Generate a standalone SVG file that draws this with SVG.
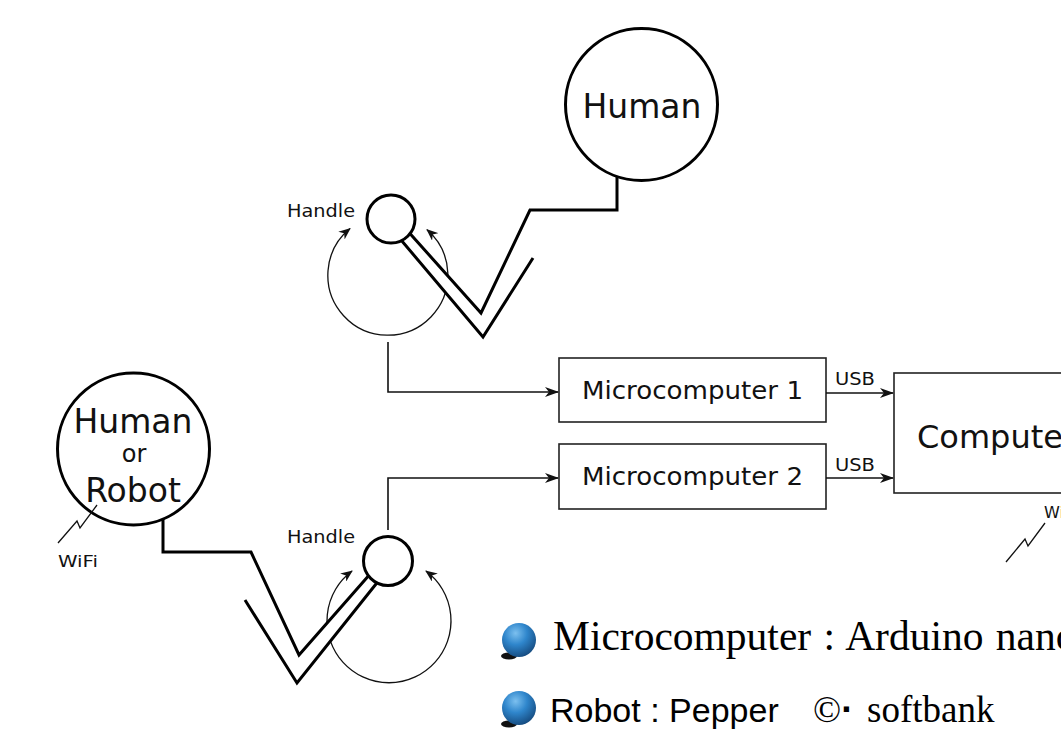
<svg xmlns="http://www.w3.org/2000/svg" width="1061" height="743" viewBox="0 0 1061 743">
  <style>
    .sans { font-family: "DejaVu Sans", Verdana, sans-serif; fill: #111; }
    .node { fill: #fff; stroke: #000; stroke-width: 3; }
    .box { fill: #fff; stroke: #222; stroke-width: 1.6; }
    .arm { fill: none; stroke: #000; stroke-width: 3; stroke-linejoin: miter; }
    .band { fill: #fff; stroke: none; }
    .wire { fill: none; stroke: #111; stroke-width: 1.6; }
    .turn { fill: none; stroke: #111; stroke-width: 1.3; }
    .radio { fill: none; stroke: #111; stroke-width: 1.3; }
    .serif { font-family: "Liberation Serif", "Times New Roman", serif; fill: #000; }
    .gothic { font-family: "Liberation Sans", Arial, sans-serif; fill: #000; }
  </style>
  <defs>
    <marker id="arrow" viewBox="0 0 14 10" refX="13" refY="5" markerWidth="14" markerHeight="10" markerUnits="userSpaceOnUse" orient="auto">
      <path d="M0,0 L14,5 L0,10 L4,5 Z" fill="#111"/>
    </marker>
    <marker id="turnhead" viewBox="0 0 12 10" refX="11" refY="5" markerWidth="12" markerHeight="10" markerUnits="userSpaceOnUse" orient="auto-start-reverse">
      <path d="M0,0 L12,5 L0,10 L3.5,5 Z" fill="#111"/>
    </marker>
    <radialGradient id="ball" cx="0.4" cy="0.3" r="0.75">
      <stop offset="0" stop-color="#7cc0ef"/>
      <stop offset="0.45" stop-color="#2f86cc"/>
      <stop offset="1" stop-color="#14477a"/>
    </radialGradient>
  </defs>

  <!-- rotation hints around each handle (drawn under the arms) -->
  <g id="rotation-top">
    <path class="turn" d="M350,228.6 A60,60 0 1 0 427,229.7" marker-start="url(#turnhead)" marker-end="url(#turnhead)"/>
  </g>
  <g id="rotation-bottom">
    <path class="turn" d="M352,571 A62,62 0 1 0 426,571" marker-start="url(#turnhead)" marker-end="url(#turnhead)"/>
  </g>

  <!-- arm linking the top human to its handle -->
  <g id="arm-top">
    <polygon class="band" points="403,243 483,337 533,258 530,210 481,313 413,237"/>
    <polyline class="arm" points="617,176 617,210 530,210 481,313 405,228"/>
    <polyline class="arm" points="533,258 483,337 396,234"/>
  </g>

  <!-- arm linking the human/robot to its handle -->
  <g id="arm-bottom">
    <polygon class="band" points="245,600 297,683 375,583 367,577 299,655 251,552"/>
    <polyline class="arm" points="163,519 163,552 251,552 299,655 378,565"/>
    <polyline class="arm" points="245,600 297,683 384,574"/>
  </g>

  <g id="human-top">
    <circle class="node" cx="641.5" cy="104.5" r="76"/>
    <text class="sans" x="642" y="118" font-size="33" text-anchor="middle">Human</text>
  </g>

  <g id="human-or-robot">
    <circle class="node" cx="133.5" cy="449" r="76"/>
    <text class="sans" x="133" y="433" font-size="33" text-anchor="middle">Human</text>
    <text class="sans" x="134" y="462" font-size="24" text-anchor="middle">or</text>
    <text class="sans" x="133" y="502" font-size="33" text-anchor="middle">Robot</text>
    <polyline class="radio" points="58,543 77,521 80,528 97,505"/>
    <text class="sans" x="58" y="567" font-size="16.5" textLength="40" lengthAdjust="spacingAndGlyphs">WiFi</text>
  </g>

  <g id="handle-top">
    <circle class="node" cx="391" cy="219" r="24"/>
    <text class="sans" x="287" y="217" font-size="18" textLength="68" lengthAdjust="spacingAndGlyphs">Handle</text>
  </g>

  <g id="handle-bottom">
    <circle class="node" cx="388" cy="561" r="24.5"/>
    <text class="sans" x="287" y="543" font-size="18" textLength="68" lengthAdjust="spacingAndGlyphs">Handle</text>
  </g>

  <g id="microcomputer-1">
    <rect class="box" x="559" y="358" width="267" height="64"/>
    <text class="sans" x="692.5" y="399" font-size="24" text-anchor="middle" textLength="221" lengthAdjust="spacingAndGlyphs">Microcomputer 1</text>
  </g>

  <g id="microcomputer-2">
    <rect class="box" x="559" y="444" width="267" height="65"/>
    <text class="sans" x="692.5" y="485" font-size="24" text-anchor="middle" textLength="221" lengthAdjust="spacingAndGlyphs">Microcomputer 2</text>
  </g>

  <g id="computer">
    <rect class="box" x="894" y="373" width="220" height="120"/>
    <text class="sans" x="917" y="448" font-size="32">Computer</text>
    <polyline class="radio" points="1006,562 1025,539 1028,546 1045,523"/>
    <text class="sans" x="1044" y="518" font-size="16">WiFi</text>
  </g>

  <g id="connectors">
    <polyline class="wire" points="388,342 388,392 558,392" marker-end="url(#arrow)"/>
    <polyline class="wire" points="388,530 388,478 558,478" marker-end="url(#arrow)"/>
    <line class="wire" x1="826" y1="393" x2="893" y2="393" marker-end="url(#arrow)"/>
    <line class="wire" x1="826" y1="478" x2="893" y2="478" marker-end="url(#arrow)"/>
    <text class="sans" x="835" y="385" font-size="17" textLength="40" lengthAdjust="spacingAndGlyphs">USB</text>
    <text class="sans" x="835" y="471" font-size="17" textLength="40" lengthAdjust="spacingAndGlyphs">USB</text>
  </g>

  <!-- notes -->
  <g id="note-microcomputer">
    <ellipse cx="509" cy="656" rx="8" ry="3.5" fill="#111"/>
    <circle cx="519" cy="640" r="17" fill="url(#ball)"/>
    <text class="serif" x="553" y="650" font-size="41.5" word-spacing="2">Microcomputer : Arduino nano</text>
  </g>
  <g id="note-robot">
    <ellipse cx="509" cy="724" rx="8" ry="3.5" fill="#111"/>
    <circle cx="519" cy="708" r="17" fill="url(#ball)"/>
    <text class="gothic" x="550" y="722" font-size="34">Robot : Pepper</text>
    <text class="serif" x="813" y="722" font-size="37">©<tspan font-family="'Liberation Sans', Arial, sans-serif" font-weight="bold">·</tspan><tspan x="867">softbank</tspan></text>
  </g>
</svg>
